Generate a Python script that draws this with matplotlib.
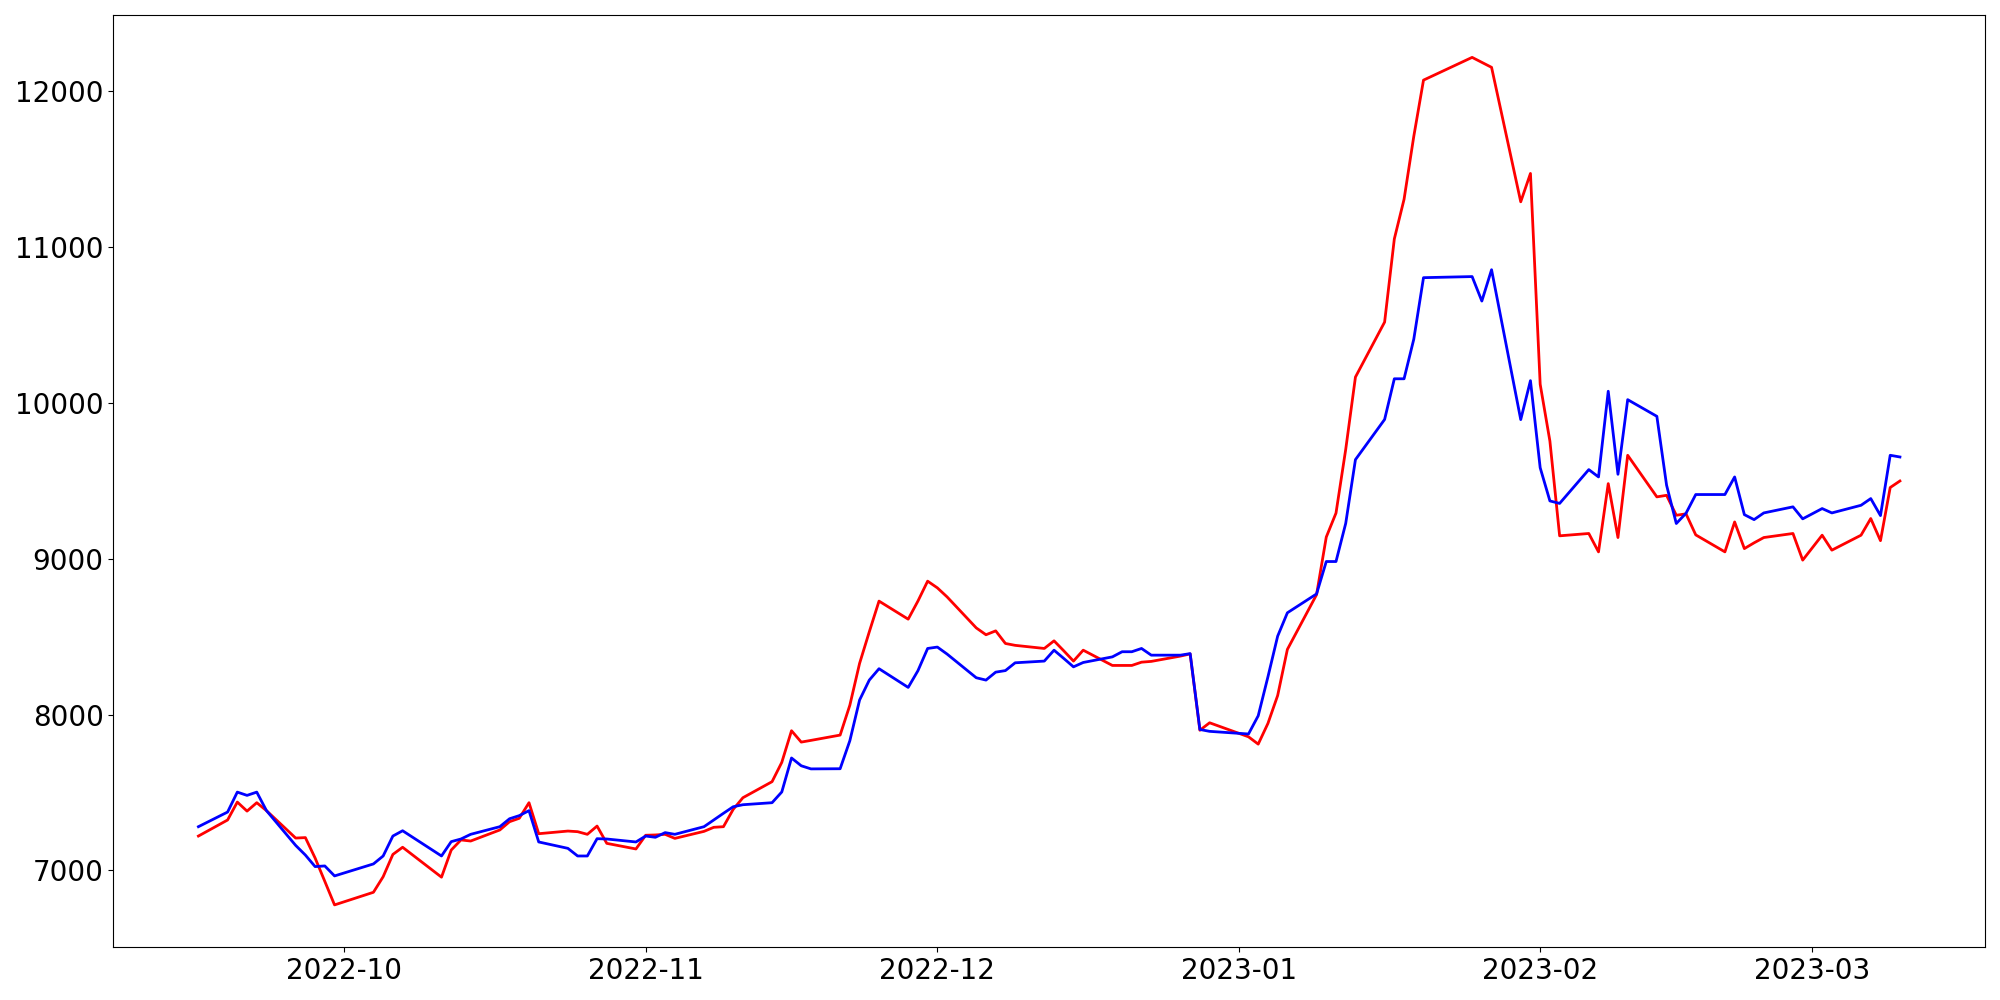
import pandas as pd
import numpy as np
import matplotlib
matplotlib.use("Agg")
import matplotlib.pyplot as plt

# trading days (KRX calendar, holidays removed)
holidays = ["2022-10-03", "2022-10-10", "2022-12-30", "2023-01-23", "2023-01-24", "2023-03-01"]
dates = pd.bdate_range("2022-09-16", "2023-03-10", freq="C", holidays=holidays)

# red series
red_vals = [
    7221, 7324, 7439, 7381, 7435, 7384, 7208, 7211, 7080, 6930, 6779,
    6860, 6960, 7103, 7149, 6957, 7131, 7196, 7189, 7260, 7313, 7335, 7435, 7236,
    7253, 7249, 7232, 7285, 7174, 7138,
    7226, 7228, 7232, 7206, 7251, 7277, 7281, 7392, 7467, 7570, 7694, 7897, 7824,
    7835, 7869, 8061, 8329, 8532, 8729, 8613, 8729, 8857,
    8814, 8756, 8557, 8513, 8538, 8457, 8445, 8425, 8474, 8410, 8344, 8414, 8316,
    8316, 8316, 8337, 8342, 8376, 8390, 7900, 7948,
    7858, 7811, 7944, 8123, 8419, 8770, 9140, 9294, 9703, 10167, 10520, 11054,
    11308, 11712, 12073, 12219, 12187, 12155, 11292, 11474,
    10121, 9756, 9148, 9163, 9045, 9483, 9137, 9665, 9398, 9408, 9280, 9289, 9154,
    9045, 9237, 9066, 9103, 9137, 9163, 8992,
    9152, 9056, 9152, 9259, 9117, 9458, 9500,
]

# blue series
blue_vals = [
    7281, 7375, 7503, 7482, 7503, 7384, 7161, 7099, 7025, 7029, 6965,
    7042, 7093, 7221, 7255, 7093, 7185, 7202, 7232, 7281, 7332, 7352, 7384, 7183,
    7142, 7093, 7093, 7204, 7202, 7183,
    7221, 7213, 7243, 7232, 7281, 7324, 7367, 7409, 7422, 7435, 7504, 7722, 7672,
    7652, 7653, 7833, 8094, 8222, 8295, 8175, 8282, 8425,
    8434, 8389, 8237, 8222, 8273, 8283, 8333, 8344, 8414, 8361, 8307, 8335, 8371,
    8404, 8404, 8425, 8382, 8382, 8392, 7905, 7893,
    7876, 7993, 8243, 8504, 8654, 8775, 8983, 8983, 9228, 9637, 9895, 10156,
    10156, 10410, 10805, 10812, 10655, 10856, 9894, 10144,
    9585, 9372, 9356, 9573, 9526, 10076, 9543, 10022, 9915, 9473, 9227, 9293, 9413,
    9413, 9526, 9284, 9252, 9295, 9334, 9257,
    9323, 9295, 9344, 9387, 9278, 9665, 9654,
]

assert len(dates) == len(red_vals) == len(blue_vals)

fig, ax = plt.subplots(figsize=(20, 10), dpi=100)
ax.plot(dates, red_vals, color="red", linewidth=2)
ax.plot(dates, blue_vals, color="blue", linewidth=2)
ax.tick_params(labelsize=20)
plt.tight_layout()
plt.savefig("out.png")
